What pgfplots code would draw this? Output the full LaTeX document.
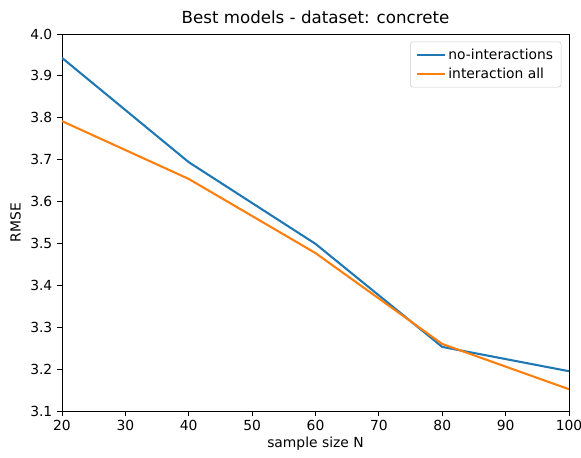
\documentclass[border=0pt]{standalone}
\usepackage{fontspec}
\setmainfont{DejaVu Sans}
\usepackage{pgfplots}
\pgfplotsset{compat=1.18}
\definecolor{mplblue}{HTML}{1F77B4}
\definecolor{mplorange}{HTML}{FF7F0E}
\begin{document}
\fontsize{10.4pt}{12pt}\selectfont
\begin{tikzpicture}
\begin{axis}[
    name=main,
    scale only axis,
    width=380.25pt, height=282.75pt,
    xmin=20, xmax=100, ymin=3.1, ymax=4.0,
    xtick={20,30,...,100},
    ytick={3.1,3.2,...,4.0},
    yticklabel style={/pgf/number format/.cd,fixed,fixed zerofill,precision=1},
    /pgf/number format/assume math mode=true,
    tick align=outside,
    tick pos=left,
    major tick length=3.6pt,
    tick style={black, line width=0.6pt},
    axis line style={line width=0.6pt},
    ticklabel style={font=\fontsize{10.4pt}{12pt}\selectfont},
    title={Best models - dataset: concrete},
    title style={font=\fontsize{12.5pt}{14pt}\selectfont, yshift=-2pt},
    xlabel={sample size N},
    ylabel={RMSE},
    label style={font=\fontsize{10.4pt}{12pt}\selectfont},
    xlabel style={yshift=3pt},
    ylabel style={yshift=0pt},
    legend cell align=left,
    legend style={draw=black!20, rounded corners=2pt, font=\fontsize{10.4pt}{12pt}\selectfont,
        at={(0.985,0.98)}, anchor=north east, inner xsep=4pt, inner ysep=3pt, row sep=1pt},
    legend image code/.code={\draw[#1] (0pt,0pt) -- (21pt,0pt);},
    every axis plot/.append style={line width=1.56pt},
]
\addplot[mplblue, mark=none] coordinates {(20,3.943) (40,3.694) (60,3.499) (80,3.253) (100,3.195)};
\addplot[mplorange, mark=none] coordinates {(20,3.792) (40,3.654) (60,3.477) (80,3.260) (100,3.152)};
\legend{no-interactions, interaction all}
\end{axis}
\pgfresetboundingbox
\path[use as bounding box] ([shift={(-46.5pt,-34.5pt)}]main.south west) rectangle ([shift={(9pt,25.5pt)}]main.north east);
\end{tikzpicture}
\end{document}
